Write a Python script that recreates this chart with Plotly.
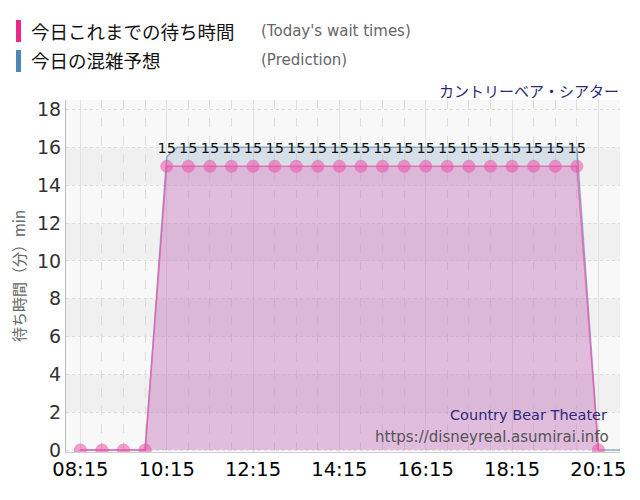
import plotly.graph_objects as go

# today's wait times (every 30 min)
wait_times = ["08:15", "08:45", "09:15", "09:45", "10:15", "10:45", "11:15", "11:45",
              "12:15", "12:45", "13:15", "13:45", "14:15", "14:45", "15:15", "15:45",
              "16:15", "16:45", "17:15", "17:45", "18:15", "18:45", "19:15", "19:45", "20:15"]
wait_vals = [0, 0, 0, 0, 15, 15, 15, 15, 15, 15, 15, 15, 15, 15, 15, 15,
             15, 15, 15, 15, 15, 15, 15, 15, 0]

# prediction
pred_times = ["08:15", "08:45", "09:15", "09:45", "10:15", "10:30", "11:30", "12:30",
              "13:30", "14:30", "15:30", "16:30", "17:30", "18:30", "19:30", "19:45",
              "20:15", "20:45"]
pred_vals = [0, 0, 0, 0, 15.5, 16, 16, 16, 16, 16, 16, 16, 16, 16, 16, 16, 0, 0]

day = "2024-01-01 "
W, H = 640, 500
OFF = 8  # page body margin
# plot box in screen pixels: x 66..620, y 100..452
L, R, T, B = 66 - OFF, W - 620 + OFF, 100 - OFF, H - 452 + OFF


def px(x):
    return (x - OFF - L) / (W - L - R)


def py(y):
    return (H - B - (y - OFF)) / (H - T - B)


fig = go.Figure()

fig.add_trace(go.Scatter(
    x=[day + t for t in pred_times], y=pred_vals,
    mode="lines", line=dict(color="rgba(70,130,180,0.6)", width=1.5),
    fill="tozeroy", fillcolor="rgba(70,130,180,0.15)",
    hoverinfo="skip", showlegend=False))

fig.add_trace(go.Scatter(
    x=[day + t for t in wait_times], y=wait_vals,
    mode="lines+markers+text",
    text=[str(v) if v else "" for v in wait_vals],
    textposition="top center",
    textfont=dict(family="DejaVu Sans", size=14.5, color="#111"),
    line=dict(color="rgba(240,90,170,0.8)", width=1.5),
    marker=dict(size=13, color="rgba(235,80,165,0.55)"),
    fill="tozeroy", fillcolor="rgba(230,110,190,0.35)",
    showlegend=False))

shapes = []
for y0 in [2, 6, 10, 14]:
    shapes.append(dict(type="rect", xref="paper", yref="y", x0=0, x1=1, y0=y0, y1=y0 + 2,
                       fillcolor="#f0f0f0", line_width=0, layer="below"))
shapes.append(dict(type="rect", xref="paper", yref="paper", x0=px(16), x1=px(21),
                   y0=py(42), y1=py(20), fillcolor="#f0288c", line_width=0))
shapes.append(dict(type="rect", xref="paper", yref="paper", x0=px(16), x1=px(21),
                   y0=py(72), y1=py(50), fillcolor="#4f86b8", line_width=0))

ann = [
    dict(text="今日これまでの待ち時間", x=px(29), y=py(31), xanchor="left", yanchor="middle",
         font=dict(size=18.5, color="#111", family="Noto Sans CJK JP")),
    dict(text="(Today's wait times)", x=px(259), y=py(31), xanchor="left", yanchor="middle",
         font=dict(size=15, color="#666", family="DejaVu Sans")),
    dict(text="今日の混雑予想", x=px(29), y=py(60), xanchor="left", yanchor="middle",
         font=dict(size=18.5, color="#111", family="Noto Sans CJK JP")),
    dict(text="(Prediction)", x=px(259), y=py(60), xanchor="left", yanchor="middle",
         font=dict(size=15, color="#666", family="DejaVu Sans")),
    dict(text="カントリーベア・シアター", x=px(621), y=py(90), xanchor="right", yanchor="middle",
         font=dict(size=15, color="#2a2a78", family="Noto Sans CJK JP")),
    dict(text="Country Bear Theater", x=px(609), y=py(415), xanchor="right", yanchor="middle",
         font=dict(size=14.5, color="#2a2a78", family="DejaVu Sans")),
    dict(text="https://disneyreal.asumirai.info", x=px(611), y=py(437), xanchor="right",
         yanchor="middle", font=dict(size=15, color="#555", family="DejaVu Sans")),
]
for a in ann:
    a.update(xref="paper", yref="paper", showarrow=False)

fig.update_layout(
    width=W, height=H,
    margin=dict(l=L, r=R, t=T, b=B),
    paper_bgcolor="white", plot_bgcolor="#f8f8f8",
    shapes=shapes, annotations=ann,
    xaxis=dict(
        type="date", range=[day + "07:55", day + "20:45"], automargin=False,
        tick0=day + "08:15", dtick=7200000, tickformat="%H:%M",
        tickfont=dict(size=19.5, color="#000", family="DejaVu Sans"),
        showgrid=True, gridcolor="#e0e0e0", gridwidth=1,
        minor=dict(dtick=1800000, tick0=day + "08:15", showgrid=True,
                   gridcolor="#dddddd", griddash="dash"),
        showline=True, linecolor="#cccccc", zeroline=False, ticks="",
    ),
    yaxis=dict(
        range=[-0.1, 18.5], dtick=2, tick0=0, automargin=False,
        tickfont=dict(size=19, color="#333", family="DejaVu Sans"),
        showgrid=True, gridcolor="#dddddd", griddash="dot",
        showline=True, linecolor="#bbbbbb", zeroline=False,
        title=dict(text="待ち時間（分）min", standoff=8,
                   font=dict(size=15, color="#666", family="Noto Sans CJK JP")),
    ),
)

fig.write_html("out.html")
